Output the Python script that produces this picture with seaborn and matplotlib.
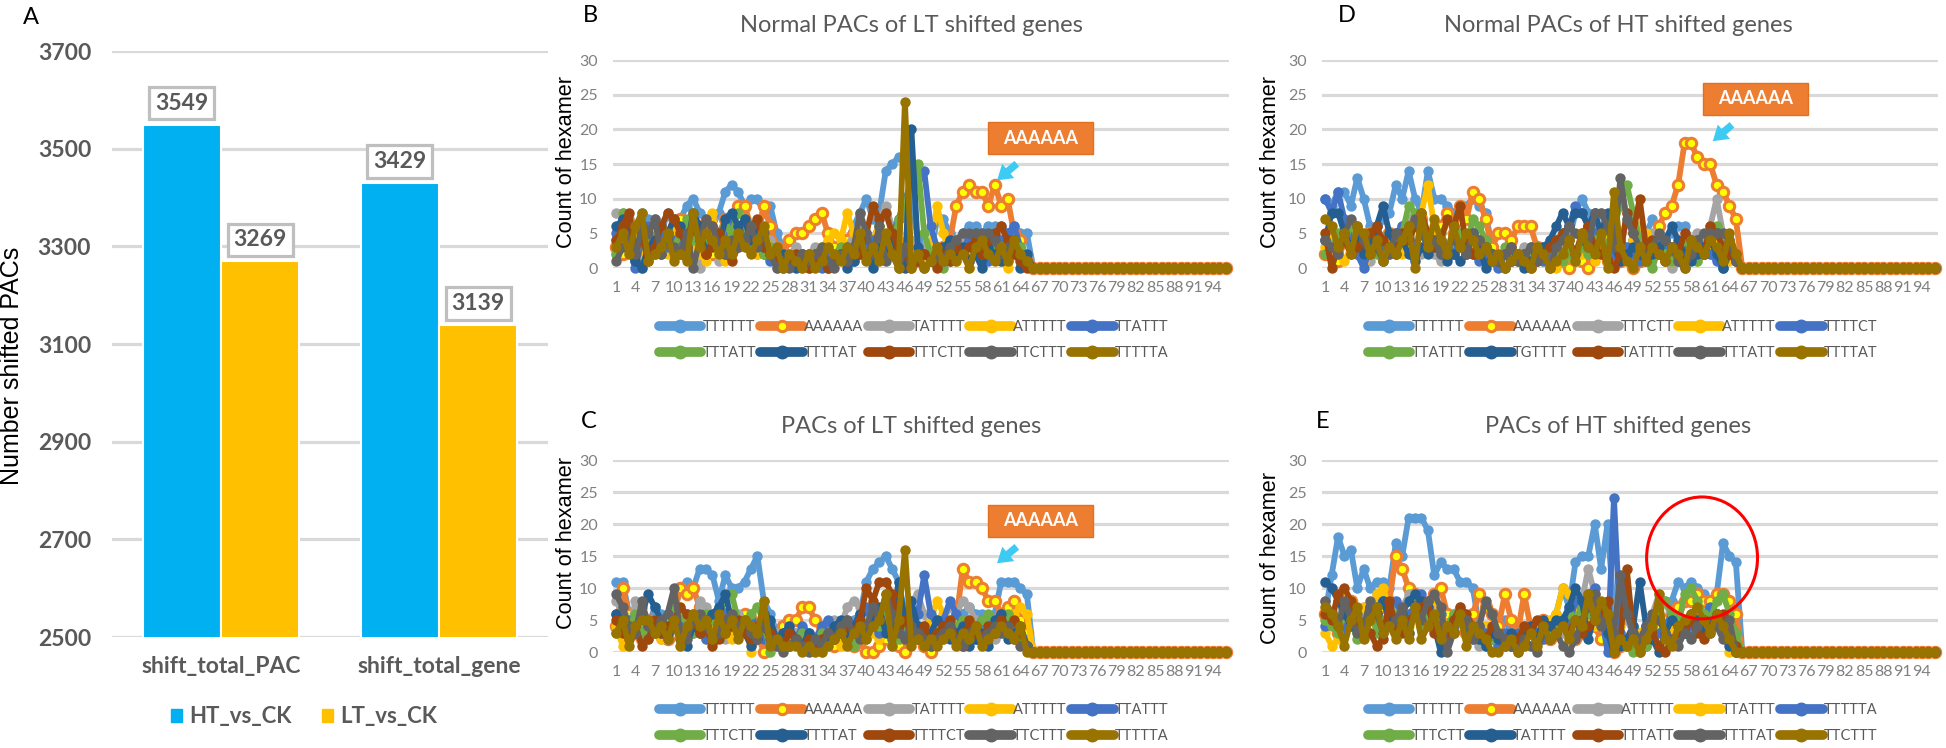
import numpy as np
import pandas as pd
import matplotlib
matplotlib.use("Agg")
import matplotlib.pyplot as plt
import seaborn as sns
from matplotlib.lines import Line2D
from matplotlib.patches import Patch, Ellipse, Rectangle
from matplotlib.font_manager import FontProperties

# ------------------------------------------------------------------ data
A_CATEGORIES = ["shift_total_PAC", "shift_total_gene"]
A_GROUPS = ["HT_vs_CK", "LT_vs_CK"]
A_HT = [3549, 3429]
A_LT = [3269, 3139]
A_YTICKS = [2500, 2700, 2900, 3100, 3300, 3500, 3700]
A_COLORS = ["#00B0F0", "#FFC000"]

POSITIONS = list(range(1, 97))
X_TICKS = list(range(1, 95, 3))
Y_TICKS = [0, 5, 10, 15, 20, 25, 30]
ZERO_TAIL = [0, 0, 0, 0, 0, 0, 0, 0, 0, 0, 0, 0, 0, 0, 0, 0,
             0, 0, 0, 0, 0, 0, 0, 0, 0, 0, 0, 0, 0, 0, 0]

SERIES_COLORS = ["#5B9BD5", "#ED7D31", "#A5A5A5", "#FFC000", "#4472C4",
                 "#70AD47", "#255E91", "#9E480E", "#636363", "#997300"]

# ---- B: Normal PACs of LT shifted genes
B_NAMES = ["TTTTTT", "AAAAAA", "TATTTT", "ATTTTT", "TTATTT",
           "TTTATT", "TTTTAT", "TTTCTT", "TTCTTT", "TTTTTA"]
B_TTTTTT = [4,6,7,3,8,7,6,5,8,6, 7,9,10,8,7,6,8,11,12,11, 9,10,10,8,9,5,3,2,2,2,
            2,2,3,2,2,3,4,6,8,10, 7,8,14,15,16,16,10,4,3,2, 7,7,5,4,5,6,6,5,6,6, 6,5,6,5,5]
B_AAAAAA = [3,2,5,6,4,2,5,3,4,6, 7,5,4,6,3,2,5,7,6,9, 9,6,4,9,6,3,2,4,5,5,
            6,7,8,5,3,2,4,5,3,2, 4,5,3,2,3,1,2,1,2,3, 2,3,4,9,11,12,11,11,9,12, 9,10,5,4,1]
B_TATTTT = [8,8,4,1,0,6,7,2,5,3, 4,6,2,0,3,7,1,5,3,4, 6,3,2,5,4,0,1,2,3,1,
            2,3,2,3,1,2,3,5,6,4, 3,7,9,6,2,1,4,2,3,1, 2,1,3,2,4,5,2,3,2,3, 4,3,2,3,2]
B_ATTTTT = [2,4,3,6,2,5,6,3,2,5, 4,6,3,2,1,8,2,1,3,5, 7,4,2,5,3,2,1,2,1,0,
            1,2,3,4,5,4,8,5,2,3, 4,6,3,5,4,2,3,2,1,3, 9,5,2,1,3,0,2,1,3,2, 1,0,2,3,1]
B_TTATTT = [5,7,3,0,4,6,2,5,3,4, 3,5,6,4,2,6,5,3,7,4, 5,3,4,2,1,2,2,1,1,2,
            2,1,0,2,1,2,3,1,2,3, 4,2,3,5,7,10,12,13,14,6, 3,2,1,2,3,4,5,2,1,3, 4,5,6,3,1]
B_TTTATT = [2,8,6,3,5,2,4,6,5,3, 5,7,4,6,3,5,4,6,5,8, 7,3,4,2,3,1,2,1,2,1,
            0,1,2,1,2,3,1,2,3,2, 1,6,4,3,7,8,14,15,5,2, 1,0,2,3,2,1,3,2,4,2, 3,2,4,3,1]
B_TTTTAT = [6,7,5,1,0,3,4,2,5,7, 6,3,8,6,2,4,3,7,8,6, 7,4,5,3,2,1,2,1,0,2,
            1,2,1,0,1,2,0,1,3,2, 0,3,2,4,1,0,20,3,2,1, 2,3,4,2,3,1,2,0,3,2, 1,2,4,0,2]
B_TTTCTT = [4,6,8,2,5,1,3,6,8,7, 5,3,6,4,2,3,5,2,1,3, 4,6,7,3,2,1,0,1,2,1,
            0,1,2,0,1,2,1,3,2,5, 9,7,8,5,3,2,0,1,2,1, 0,2,1,3,2,3,4,2,4,5, 6,4,2,1,0]
B_TTCTTT = [1,3,4,2,6,5,7,2,4,3, 2,5,0,4,7,6,3,2,4,3, 4,6,3,5,2,0,1,0,1,2,
            1,2,3,1,0,2,1,3,8,5, 2,6,1,2,0,3,1,2,0,1, 2,1,3,4,5,5,5,5,5,4, 2,3,4,2,1]
B_TTTTTA = [3,5,2,6,8,1,2,3,5,1, 2,1,8,3,5,4,2,4,2,5, 3,2,4,6,2,3,0,2,1,0,
            2,0,1,3,2,1,3,2,5,1, 3,1,5,2,0,24,0,2,0,1, 3,1,2,1,2,0,3,4,2,1, 3,1,4,2,1]

# ---- C: PACs of LT shifted genes
C_NAMES = ["TTTTTT", "AAAAAA", "TATTTT", "ATTTTT", "TTATTT",
           "TTTCTT", "TTTTAT", "TTTTCT", "TTCTTT", "TTTTTA"]
C_TTTTTT = [11,11,6,5,7,4,7,6,5,6, 10,11,10,13,13,12,8,12,10,10, 11,13,15,8,6,3,2,2,3,2,
            2,1,2,3,2,3,4,5,6,11, 13,14,15,13,11,6,3,2,4,3, 5,3,4,7,6,7,6,6,5,6, 11,11,11,10,9]
C_AAAAAA = [4,10,6,3,2,5,4,3,2,6, 10,9,10,7,5,3,4,6,5,4, 6,5,3,0,3,2,4,5,5,7,
            7,5,3,2,1,2,3,1,2,0, 0,1,2,3,1,0,2,3,1,0, 2,3,4,5,13,11,11,10,8,8, 6,7,8,5,3]
C_TATTTT = [8,6,3,8,7,5,4,2,3,5, 4,6,3,8,7,5,3,2,4,6, 5,4,3,2,4,3,2,4,3,2,
            1,2,3,4,5,4,7,8,7,6, 5,4,6,5,3,7,8,9,6,4, 3,5,7,6,8,7,5,4,3,2, 3,4,5,3,2]
C_ATTTTT = [4,1,3,5,2,4,3,2,5,6, 7,4,5,3,2,4,5,3,2,4, 5,0,2,3,1,2,1,3,2,1,
            2,1,0,1,2,1,3,2,4,5, 3,2,4,1,2,3,4,2,3,5, 8,6,4,3,2,5,3,2,4,5, 4,5,6,7,6]
C_TTATTT = [6,4,5,3,2,5,4,3,2,5, 4,3,6,5,2,3,4,6,5,3, 4,5,3,2,3,2,3,1,2,4,
            3,2,4,5,3,4,5,3,6,7, 4,3,5,2,4,3,5,6,12,6, 4,5,8,6,4,3,2,5,4,3, 6,5,3,2,1]
C_TTTCTT = [3,5,4,6,3,2,4,5,3,7, 6,5,3,4,6,5,7,8,9,5, 4,6,7,5,0,1,2,1,2,3,
            2,1,3,2,4,3,2,1,3,2, 5,4,6,3,2,5,3,4,2,3, 4,2,3,4,5,4,3,5,6,4, 5,6,3,2,1]
C_TTTTAT = [6,5,3,4,6,9,7,5,3,4, 2,1,4,3,5,6,7,9,5,4, 3,1,2,6,5,2,3,4,2,1,
            3,2,1,2,4,5,3,4,6,3, 5,7,3,4,11,5,8,4,2,3, 5,4,2,3,4,1,2,3,1,5, 6,2,3,4,1]
C_TTTTCT = [5,3,2,4,1,2,5,3,4,5, 7,6,5,3,4,1,2,3,4,5, 3,2,4,5,3,2,1,3,2,1,
            2,1,2,3,2,3,4,3,5,10, 8,11,11,9,4,5,3,2,4,1, 3,4,5,2,1,5,3,2,4,3, 5,4,5,3,1]
C_TTCTTT = [9,7,4,3,8,4,3,5,6,10, 3,2,5,6,4,2,3,5,6,4, 5,3,2,4,2,1,0,1,2,1,
            0,2,1,3,2,4,5,3,2,4, 7,5,9,6,3,2,4,3,2,1, 2,3,4,2,1,3,4,2,3,4, 3,4,2,1,1]
C_TTTTTA = [3,5,1,4,5,5,3,4,2,5, 1,4,6,4,5,2,6,3,5,2, 5,4,3,8,1,2,1,1,1,0,
            1,0,0,1,2,3,1,3,4,2, 4,5,9,1,5,16,1,2,1,2, 1,2,3,1,3,2,4,1,2,3, 4,3,2,4,0]

# ---- D: Normal PACs of HT shifted genes
D_NAMES = ["TTTTTT", "AAAAAA", "TTTCTT", "ATTTTT", "TTTTCT",
           "TTATTT", "TGTTTT", "TATTTT", "TTTATT", "TTTTAT"]
D_TTTTTT = [10,9,11,11,9,13,10,6,6,7, 8,12,10,14,10,8,14,10,10,9, 8,8,9,10,9,8,3,2,1,2,
            2,1,2,2,3,1,2,3,4,8, 10,8,6,5,3,2,3,2,4,3, 5,7,6,4,5,6,6,4,3,2, 4,3,2,4,2]
D_AAAAAA = [2,3,1,4,6,3,2,5,4,3, 5,4,3,6,5,7,3,4,6,8, 5,9,7,11,10,7,3,5,5,4,
            6,6,6,3,2,1,2,1,0,2, 1,0,2,3,1,2,1,2,0,1, 2,4,6,8,9,12,18,18,16,15, 15,12,11,9,7]
D_TTTCTT = [4,3,2,5,6,3,2,1,3,2, 4,5,6,7,3,2,4,2,1,3, 5,4,2,3,2,1,2,1,2,1,
            2,3,2,1,2,3,4,3,2,1, 3,4,8,8,5,3,2,8,4,2, 3,5,2,1,0,1,2,3,5,4, 6,10,5,3,1]
D_ATTTTT = [3,4,2,1,3,2,1,2,4,3, 5,4,2,3,7,8,12,6,3,2, 3,4,2,3,4,2,1,2,1,3,
            2,1,3,2,1,2,0,1,2,1, 2,3,1,2,4,5,3,2,4,6, 5,4,3,2,1,2,3,2,1,2, 3,4,2,1,1]
D_TTTTCT = [10,8,11,7,5,2,0,3,4,3, 2,5,6,4,3,5,4,3,2,3, 2,4,3,2,1,2,1,0,2,1,
            2,1,3,2,1,2,3,5,6,9, 8,6,5,4,3,2,4,3,2,1, 3,2,4,3,2,1,3,2,4,3, 2,1,0,3,2]
D_TTATTT = [2,3,5,4,6,5,3,4,2,1, 3,2,5,9,8,6,4,3,5,2, 4,5,3,7,6,4,2,1,3,2,
            1,2,1,3,2,3,2,1,2,1, 3,2,4,5,3,6,9,12,8,4, 2,0,3,2,1,2,4,3,1,2, 4,6,3,2,1]
D_TGTTTT = [4,8,8,5,3,4,2,3,6,9, 5,3,4,2,1,3,2,4,3,1, 2,1,2,5,3,0,2,1,0,1,
            2,0,1,2,3,4,6,8,6,8, 8,6,8,5,8,3,1,2,3,2, 1,2,3,4,6,4,2,1,2,3, 4,2,0,2,1]
D_TATTTT = [5,0,3,4,2,3,4,5,6,4, 3,2,5,4,6,8,5,3,4,7, 6,9,3,2,4,3,2,1,2,3,
            1,2,0,1,2,3,4,5,4,2, 5,6,3,2,1,0,2,8,5,10, 3,4,2,1,3,2,5,4,3,2, 6,5,3,2,1]
D_TTTATT = [4,3,2,5,7,6,4,2,3,1, 2,5,4,6,7,5,3,4,2,3, 4,3,2,5,4,3,2,1,2,3,
            1,2,3,1,2,0,3,4,6,5, 4,3,8,8,6,3,13,7,5,3, 2,3,5,4,3,1,0,2,4,5, 5,5,5,4,1]
D_TTTTAT = [7,6,3,5,2,6,5,2,4,1, 3,2,4,6,0,8,3,7,4,2, 6,3,5,4,2,3,1,2,0,1,
            2,1,0,3,2,0,1,2,4,1, 5,3,2,5,0,11,3,1,0,3, 1,3,2,1,3,2,0,4,3,2, 4,3,1,5,2]

# ---- E: PACs of HT shifted genes
E_NAMES = ["TTTTTT", "AAAAAA", "ATTTTT", "TTATTT", "TTTTTA",
           "TTTCTT", "TATTTT", "TTTATT", "TTTTAT", "TTCTTT"]
E_TTTTTT = [6,12,18,15,16,10,13,10,11,11, 10,17,15,21,21,21,19,12,14,13, 13,11,11,10,4,2,3,4,5,3,
            2,4,3,2,3,4,6,10,7,14, 15,15,20,13,20,6,3,2,4,3, 2,5,6,4,8,11,10,11,10,9, 8,9,17,15,14]
E_AAAAAA = [6,5,3,7,8,5,4,6,5,7, 8,15,13,10,9,8,7,9,10,6, 5,4,3,6,9,7,6,4,9,5,
            3,9,4,3,5,2,3,4,3,2, 3,5,4,2,3,0,1,2,3,1, 2,3,4,5,6,7,8,8,9,8, 8,9,9,8,6]
E_ATTTTT = [8,6,5,9,6,4,7,5,9,8, 6,5,7,9,8,6,4,7,5,3, 6,7,5,3,1,2,3,1,2,3,
            1,2,3,4,2,3,4,3,5,6, 8,13,9,6,5,4,12,5,3,2, 4,6,9,8,5,4,3,5,6,5, 4,6,5,3,2]
E_TTATTT = [3,1,2,9,8,5,7,6,9,10, 7,5,6,4,8,7,6,9,5,4, 6,5,4,3,2,4,3,2,1,2,
            3,2,1,2,4,5,6,10,9,6, 7,5,4,6,3,2,4,1,2,3, 4,5,6,4,3,5,4,6,5,4, 5,6,4,0,1]
E_TTTTTA = [4,6,5,3,7,6,4,5,7,8, 7,8,5,6,7,9,5,4,6,3, 4,5,3,2,4,3,2,1,3,2,
            3,2,4,3,2,4,3,5,4,8, 7,9,10,6,0,24,3,1,2,0, 1,2,3,4,6,5,3,4,5,6, 7,6,5,4,0]
E_TTTCTT = [5,4,3,6,5,2,4,7,3,5, 4,6,5,3,7,4,6,5,3,4, 6,5,4,3,2,1,2,3,2,1,
            2,1,3,2,4,3,4,5,6,5, 7,6,8,5,4,3,2,1,0,2, 1,3,7,8,6,4,9,10,8,6, 5,8,9,6,3]
E_TATTTT = [11,10,8,6,4,5,3,7,6,8, 5,4,6,8,9,8,7,4,0,3, 5,6,4,3,2,1,3,2,1,3,
            2,3,4,2,5,4,5,5,7,10, 8,2,6,5,3,0,1,2,4,11, 4,2,0,3,5,4,3,6,5,3, 4,6,3,1,0]
E_TTTATT = [6,5,9,10,8,5,4,3,1,2, 8,4,3,5,6,7,8,3,4,2, 5,7,6,4,3,2,4,3,2,1,
            2,4,3,5,4,2,3,4,3,5, 3,4,5,6,8,0,2,13,3,1, 2,3,1,0,2,3,4,5,3,2, 4,5,6,3,1]
E_TTTTAT = [8,6,4,8,5,3,4,8,6,3, 4,5,7,3,6,5,8,9,7,0, 3,6,5,2,4,8,6,3,2,1,
            0,2,1,0,3,2,3,1,0,2, 5,7,9,4,6,3,12,6,3,2, 4,6,5,3,2,1,3,2,4,5, 3,4,2,5,0]
E_TTCTTT = [7,6,4,1,5,7,2,5,7,3, 4,2,5,2,7,2,4,6,2,4, 3,6,1,4,3,2,0,0,1,2,
            0,1,3,1,4,2,3,4,2,5, 4,9,5,8,6,0,2,1,2,0, 2,4,9,2,1,4,5,6,7,5, 3,6,4,2,0]

B_SERIES = [B_TTTTTT, B_AAAAAA, B_TATTTT, B_ATTTTT, B_TTATTT,
            B_TTTATT, B_TTTTAT, B_TTTCTT, B_TTCTTT, B_TTTTTA]
C_SERIES = [C_TTTTTT, C_AAAAAA, C_TATTTT, C_ATTTTT, C_TTATTT,
            C_TTTCTT, C_TTTTAT, C_TTTTCT, C_TTCTTT, C_TTTTTA]
D_SERIES = [D_TTTTTT, D_AAAAAA, D_TTTCTT, D_ATTTTT, D_TTTTCT,
            D_TTATTT, D_TGTTTT, D_TATTTT, D_TTTATT, D_TTTTAT]
E_SERIES = [E_TTTTTT, E_AAAAAA, E_ATTTTT, E_TTATTT, E_TTTTTA,
            E_TTTCTT, E_TATTTT, E_TTTATT, E_TTTTAT, E_TTCTTT]

# ------------------------------------------------------------------ figure
sns.set_style("white")
plt.rcParams["font.family"] = ["Lato", "DejaVu Sans"]

W, H = 1946, 748
fig = plt.figure(figsize=(W / 100, H / 100), dpi=100)


def fx(x):
    return x / W


def fy(y):
    return 1 - y / H


GRID = "#D9D9D9"
TXT = "#595959"

# ------------------------------------------------------------------ panel A
axA = fig.add_axes([fx(112), fy(637), fx(436), 586 / H])
dfA = pd.DataFrame({
    "category": A_CATEGORIES * 2,
    "group": [A_GROUPS[0]] * 2 + [A_GROUPS[1]] * 2,
    "value": A_HT + A_LT,
})
sns.barplot(data=dfA, x="category", y="value", hue="group", hue_order=A_GROUPS,
            palette=A_COLORS, saturation=1, width=0.72, edgecolor="white",
            linewidth=1.5, legend=False, ax=axA)
axA.set_ylim(2500, 3700)
axA.set_yticks(A_YTICKS)
axA.set_axisbelow(True)
axA.yaxis.grid(True, color=GRID, lw=2.3)
axA.xaxis.grid(False)
for s in axA.spines.values():
    s.set_visible(False)
axA.set_xlabel("")
axA.set_ylabel("")
axA.tick_params(axis="y", length=0, pad=15)
axA.tick_params(axis="x", length=0, pad=13.5)
for t in axA.get_yticklabels():
    t.set_fontfamily("Lato")
    t.set_fontweight("bold")
    t.set_fontsize(16.5)
    t.set_color(TXT)
for t in axA.get_xticklabels():
    t.set_fontfamily("Lato")
    t.set_fontweight("bold")
    t.set_fontsize(16.5)
    t.set_color(TXT)
for cont in axA.containers:
    axA.bar_label(cont, fmt="%d", padding=8, fontsize=16.5, fontweight="bold",
                  family="Lato", color=TXT,
                  bbox=dict(boxstyle="square,pad=0.25", fc="white",
                            ec="#BFBFBF", lw=2.3))

fig.text(fx(12), fy(366), "Number shifted PACs", rotation=90, ha="center",
         va="center", fontsize=18, family="Liberation Sans", color="black")
fig.text(fx(31), fy(17), "A", ha="center", va="center", fontsize=17,
         family="Lato", color="black")
legA = fig.legend(handles=[Patch(color=c) for c in A_COLORS], labels=A_GROUPS,
                  loc="center", bbox_to_anchor=(fx(304), fy(717)), ncol=2,
                  frameon=False, handlelength=0.5, handleheight=0.5,
                  handletextpad=0.32, columnspacing=1.36,
                  prop=FontProperties(family="Lato", weight="bold", size=16))
for t in legA.get_texts():
    t.set_color(TXT)

# legend order: matplotlib fills columns first; reorder so rows read left to right
ROW_MAJOR = [0, 5, 1, 6, 2, 7, 3, 8, 4, 9]


# ------------------------------------------------------------------ line panels
def line_panel(rect, names, series, title, title_xy, letter, letter_xy,
               ylab_x, ylab_y, leg_y):
    ax = fig.add_axes(rect)
    rows = []
    for name, vals in zip(names, series):
        full = list(vals) + ZERO_TAIL
        for p, v in zip(POSITIONS, full):
            rows.append((p, v, name))
    df = pd.DataFrame(rows, columns=["pos", "count", "hexamer"])
    sns.lineplot(data=df, x="pos", y="count", hue="hexamer", hue_order=names,
                 palette=SERIES_COLORS, marker="o", markersize=7.5, linewidth=4.2,
                 estimator=None, legend=False, ax=ax,
                 solid_joinstyle="round", solid_capstyle="round")
    for ln in ax.lines:
        c = matplotlib.colors.to_hex(ln.get_color()).upper()
        ln.set_markeredgecolor(c)
        ln.set_markerfacecolor(c)
        ln.set_markeredgewidth(0)
        ln.set_clip_on(False)
        if c == SERIES_COLORS[1]:
            ln.set_markerfacecolor("#FFFF00")
            ln.set_markeredgecolor(SERIES_COLORS[1])
            ln.set_markeredgewidth(2.2)
            ln.set_markersize(7.5)
    ax.set_xlim(0.5, 96.5)
    ax.set_ylim(0, 30)
    ax.set_xticks(X_TICKS)
    ax.set_yticks(Y_TICKS)
    ax.set_axisbelow(True)
    ax.yaxis.grid(True, color=GRID, lw=2.3)
    ax.xaxis.grid(False)
    for s in ax.spines.values():
        s.set_visible(False)
    ax.set_xlabel("")
    ax.set_ylabel("Count of hexamer", fontsize=15.7, family="Liberation Sans",
                  color="black")
    ax.yaxis.set_label_coords(ylab_x, ylab_y)
    ax.tick_params(axis="both", length=0, labelcolor="#808080", labelsize=11.5)
    ax.tick_params(axis="y", pad=11)
    ax.tick_params(axis="x", pad=9)
    fig.text(fx(title_xy[0]), fy(title_xy[1]), title, ha="center", va="center",
             fontsize=17, family="Lato", color=TXT)
    fig.text(fx(letter_xy[0]), fy(letter_xy[1]), letter, ha="center",
             va="center", fontsize=17, family="Lato", color="black")
    handles = []
    for i, c in enumerate(SERIES_COLORS):
        if i == 1:
            handles.append(Line2D([0], [0], color=c, lw=7, marker="o", ms=7.5,
                                  mfc="#FFFF00", mec=c, mew=2.2,
                                  solid_capstyle="round"))
        else:
            handles.append(Line2D([0], [0], color=c, lw=7, marker="o", ms=9,
                                  mfc=c, mec=c, solid_capstyle="round"))
    leg = ax.legend(handles=[handles[i] for i in ROW_MAJOR],
                    labels=[names[i] for i in ROW_MAJOR], loc="center",
                    bbox_to_anchor=(0.488, leg_y), ncol=5, frameon=False,
                    handlelength=2.9, handletextpad=0.1, columnspacing=0.3,
                    labelspacing=0.85,
                    prop=FontProperties(family="Lato", size=10.5))
    for t in leg.get_texts():
        t.set_color(TXT)
    return ax


def aaaaaa_tag(ax, x0, x1, y0, y1, arrow_from, arrow_to):
    ax.add_patch(Rectangle((x0, y0), x1 - x0, y1 - y0, transform=ax.transAxes,
                           fc="#ED7D31", ec="#E3701E", lw=1, clip_on=False,
                           zorder=19))
    ax.text((x0 + x1) / 2, (y0 + y1) / 2, "AAAAAA", transform=ax.transAxes,
            ha="center", va="center", fontsize=13, fontweight="bold",
            family="Lato", color="white", zorder=20)
    ax.annotate("", xy=arrow_to, xytext=arrow_from, xycoords="axes fraction",
                textcoords="axes fraction", zorder=20,
                arrowprops=dict(arrowstyle="simple,head_width=0.9,head_length=0.7,tail_width=0.35",
                                color="#3DCBF4", lw=0, mutation_scale=15))


rowB = [fx(613), fy(268), fx(616), 208 / H]
rowC = [fx(613), fy(652), fx(616), 192 / H]
rowD = [fx(1322), fy(268), fx(616), 208 / H]
rowE = [fx(1322), fy(652), fx(616), 192 / H]

axB = line_panel(rowB, B_NAMES, B_SERIES, "Normal PACs of LT shifted genes",
                 (911, 25), "B", (590, 15), -0.058, 0.51, -0.346)
aaaaaa_tag(axB, 0.609, 0.779, 0.548, 0.702, (0.659, 0.51), (0.620, 0.413))

axC = line_panel(rowC, C_NAMES, C_SERIES, "PACs of LT shifted genes",
                 (911, 427), "C", (589, 422), -0.058, 0.568, -0.37)
aaaaaa_tag(axC, 0.609, 0.779, 0.599, 0.766, (0.659, 0.557), (0.620, 0.453))

axD = line_panel(rowD, D_NAMES, D_SERIES, "Normal PACs of HT shifted genes",
                 (1618, 25), "D", (1347, 15), -0.067, 0.51, -0.346)
aaaaaa_tag(axD, 0.619, 0.789, 0.736, 0.889, (0.669, 0.697), (0.631, 0.601))

axE = line_panel(rowE, E_NAMES, E_SERIES, "PACs of HT shifted genes",
                 (1618, 427), "E", (1323, 422), -0.067, 0.49, -0.37)
axE.add_patch(Ellipse((0.617, 0.49), 0.18, 0.635, transform=axE.transAxes,
                      fill=False, ec="#FF0000", lw=2.2, clip_on=False, zorder=25))

fig.savefig("out.png", dpi=100)
